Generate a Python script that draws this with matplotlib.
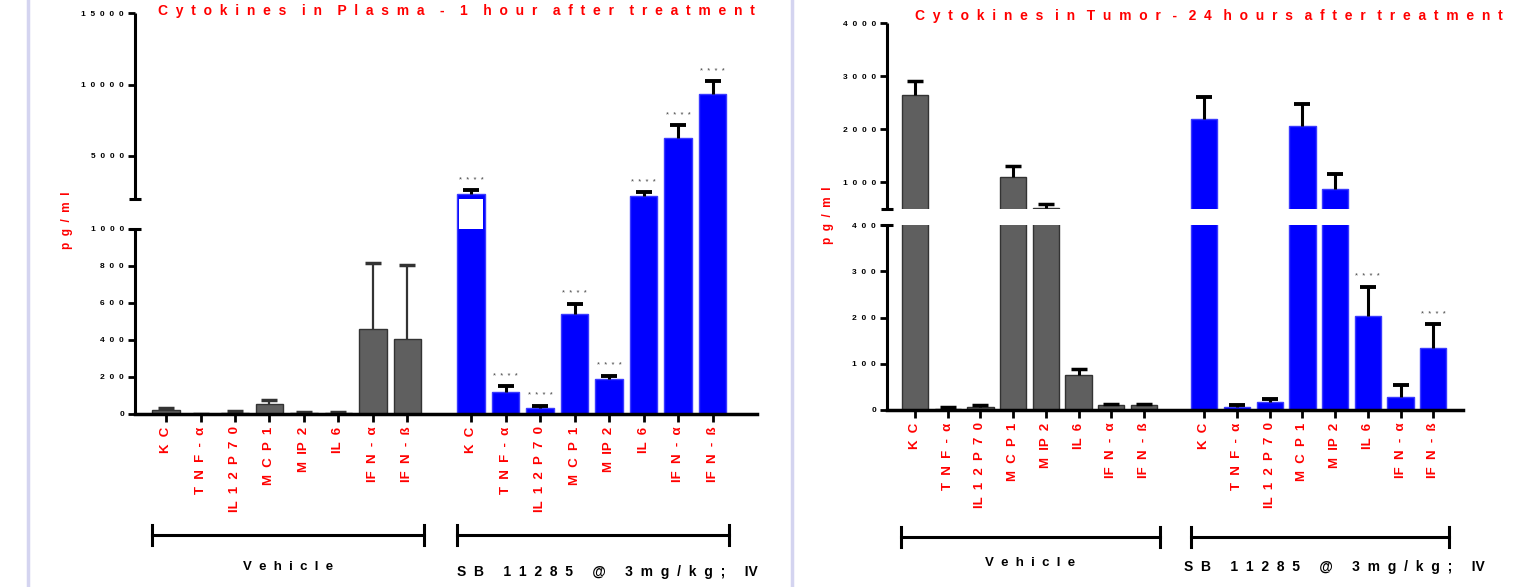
import numpy as np
import matplotlib
matplotlib.use("Agg")
import matplotlib.pyplot as plt
from matplotlib.transforms import blended_transform_factory
from matplotlib.lines import Line2D

# ---------------- data ----------------
cytokines = ["KC", "TNF-α", "IL12P70", "MCP1", "MIP2", "IL6", "IFN-α", "IFN-ß"]
groups = ["Vehicle", "SB 11285 @ 3mg/kg; IV"]

plasma_vehicle = [20, 1, 7, 54, 4, 4, 458, 405]
plasma_vehicle_err = [34, 1, 14, 76, 9, 9, 816, 802]
plasma_treated = [2310, 117, 32, 539, 187, 2170, 6230, 9320]
plasma_treated_err = [2610, 150, 45, 595, 207, 2450, 7145, 10250]
plasma_treated_stars = [1, 1, 1, 1, 1, 1, 1, 1]

tumor_vehicle = [2640, 3, 7, 1110, 520, 76, 11, 11]
tumor_vehicle_err = [2900, 6, 11, 1300, 590, 88, 14, 14]
tumor_treated = [2200, 6, 17, 2070, 880, 203, 29, 135]
tumor_treated_err = [2600, 10, 24, 2480, 1160, 267, 54, 185]
tumor_treated_stars = [0, 0, 0, 0, 0, 1, 0, 1]

plasma_ticks = [0, 200, 400, 600, 800, 1000, 5000, 10000, 15000]
tumor_ticks = [0, 100, 200, 300, 400, 1000, 2000, 3000, 4000]

title_left = "Cytokines in Plasma - 1 hour after treatment"
title_right = "Cytokines in Tumor - 24 hours after treatment"

RED = "#ff0000"
GREY = "#5f5f5f"
BLUE = "#0000ff"

plt.rcParams["font.family"] = ["Liberation Sans", "DejaVu Sans"]

fig = plt.figure(figsize=(15.14, 5.87), dpi=100)
W, Hh = 1514, 587


def spaced(s, sep="  ", wsep="    ", tight_after="I"):
    words = s.split(" ")
    outw = []
    for w in words:
        out = ""
        for i, ch in enumerate(w):
            out += ch
            if i < len(w) - 1 and ch not in tight_after:
                out += sep
        outw.append(out)
    return wsep.join(outw)


def fig_rect(x0, x1, ytop, ybot):
    return [x0 / W, 1 - ybot / Hh, (x1 - x0) / W, (ybot - ytop) / Hh]


def make_panel(rect, vals_v, err_v, vals_t, err_t, stars, lo, hi, top, hL, g, hU,
               ticks, xlim, title, title_xy, title_wsep, ylab_xy, white_gap, kc_white,
               veh_err_style, bracket_y, veh_lab_y, sb_lab_y, sb_dx):
    ax = fig.add_axes(rect)
    xs_map = [0, lo, hi, top]
    us_map = [0, hL, hL + g, hL + g + hU]
    fwd = lambda v: np.interp(v, xs_map, us_map)
    inv = lambda u: np.interp(u, us_map, xs_map)
    ax.set_yscale("function", functions=(fwd, inv))
    ax.set_ylim(0, top)
    ax.set_xlim(*xlim)

    n = len(cytokines)
    gap = 1.85
    xv = np.arange(n, dtype=float)
    xt = np.arange(n, dtype=float) + (n - 1) + gap
    bw = 0.8
    ax.bar(xv, vals_v, width=bw, color=GREY, edgecolor="#333333", linewidth=1.0, zorder=2)
    ax.bar(xt, vals_t, width=bw, color=BLUE, edgecolor="#3a3aff", linewidth=1.0, zorder=2)

    if kc_white:
        ax.bar([xt[0]], [hi - lo], bottom=[lo], width=bw * 0.86, color="white",
               edgecolor="none", zorder=2.5)
    if white_gap:
        ax.axhspan(lo, hi, color="white", zorder=2.6, lw=0)

    # error bars (upper only)
    vc, vlw = veh_err_style
    ax.vlines(xv, vals_v, err_v, color=vc, lw=vlw, zorder=3)
    ax.plot(xv, err_v, ls="none", marker="_", ms=11, mew=2.5, color=vc, zorder=3)
    ax.vlines(xt, vals_t, err_t, color="black", lw=2.2, zorder=3)
    ax.plot(xt, err_t, ls="none", marker="_", ms=11, mew=2.8, color="black", zorder=3)

    for x, e, s in zip(xt, err_t, stars):
        if s:
            ax.annotate("*  *  *  *", (x, e), xytext=(0, 4.5), textcoords="offset points",
                        ha="center", va="bottom", fontsize=5.5, color="#444444")

    # spines
    for sp in ["top", "right", "left"]:
        ax.spines[sp].set_visible(False)
    ax.spines["bottom"].set_linewidth(2.5)
    ax.spines["bottom"].set_zorder(4)
    tr = blended_transform_factory(ax.transAxes, ax.transData)
    ax.plot([0, 0], [0, lo], transform=tr, color="black", lw=2.2, clip_on=False,
            solid_capstyle="butt", zorder=5)
    ax.plot([0, 0], [hi, top], transform=tr, color="black", lw=2.2, clip_on=False,
            solid_capstyle="butt", zorder=5)
    ax.plot([0, 0], [lo, hi], transform=tr, ls="none", marker="_", ms=9, mew=2.2,
            color="black", clip_on=False, zorder=5)

    ax.set_yticks(ticks)
    ax.set_yticklabels([spaced(str(t), "  ") for t in ticks])
    ax.yaxis.set_minor_locator(matplotlib.ticker.NullLocator())
    ax.tick_params(axis="y", direction="out", length=5, width=2, pad=3,
                   labelsize=6)
    for lab in ax.get_yticklabels():
        lab.set_fontweight("bold")

    xall = np.concatenate([xv, xt])
    ax.set_xticks(xall)
    ax.set_xticklabels([spaced(c) for c in cytokines] * 2, rotation=90,
                       color=RED, fontsize=9.5, fontweight="bold", va="top", ha="center")
    ax.tick_params(axis="x", direction="out", length=6, width=2, pad=3)

    # title and y label
    fig.text(title_xy[0] / W, 1 - title_xy[1] / Hh,
             spaced(title, "  ", title_wsep, tight_after=""), color=RED, fontsize=10,
             fontweight="bold", ha="left", va="center")
    fig.text(ylab_xy[0] / W, 1 - ylab_xy[1] / Hh, "p  g  /  m  l", color=RED,
             fontsize=8.5, fontweight="bold", rotation=90, ha="center", va="center")

    # group brackets
    btr = blended_transform_factory(ax.transData, fig.transFigure)
    yb = 1 - bracket_y / Hh
    dy = 10 / Hh
    for xs, lab, ly, ha in [(xv, groups[0], veh_lab_y, "center"),
                            (xt, groups[1], sb_lab_y, "left")]:
        a, b = xs[0] - 0.42, xs[-1] + 0.48
        fig.add_artist(Line2D([a, b], [yb, yb], transform=btr, color="black", lw=2.2))
        fig.add_artist(Line2D([a, a], [yb - dy, yb + dy], transform=btr, color="black", lw=2.2))
        fig.add_artist(Line2D([b, b], [yb - dy, yb + dy], transform=btr, color="black", lw=2.2))
        if ha == "center":
            fig.text((a + b) / 2, 1 - ly / Hh, spaced(lab, "  ", "      "),
                     transform=btr, ha="center", va="center",
                     fontsize=9.5, fontweight="bold")
        else:
            fig.text(a + sb_dx, 1 - ly / Hh, spaced(lab, "  ", "     "),
                     transform=btr, ha="left", va="center",
                     fontsize=10, fontweight="bold")
    return ax


make_panel(fig_rect(135, 757, 13.3, 414), plasma_vehicle, plasma_vehicle_err,
           plasma_treated, plasma_treated_err, plasma_treated_stars,
           1000, 2000, 15000, 185.3, 30.0, 185.4, plasma_ticks, (-0.9, 17.14),
           title_left, (158, 11), "    ", (67, 220), False, True, ("#333333", 1.6),
           535, 567, 572, 0.0)

make_panel(fig_rect(887, 1463, 23, 410), tumor_vehicle, tumor_vehicle_err,
           tumor_treated, tumor_treated_err, tumor_treated_stars,
           400, 500, 4000, 185.0, 16.0, 186.0, tumor_ticks, (-0.86, 16.76),
           title_right, (915, 16), "   ", (828, 215), True, False, ("black", 2.2),
           537, 563, 567, -0.2)

# pale frame lines
for xp in (28, 792):
    fig.add_artist(Line2D([xp / W, xp / W], [0, 1], transform=fig.transFigure,
                          color="#d4d4f0", lw=2.5))

fig.savefig("out.png", dpi=100)
